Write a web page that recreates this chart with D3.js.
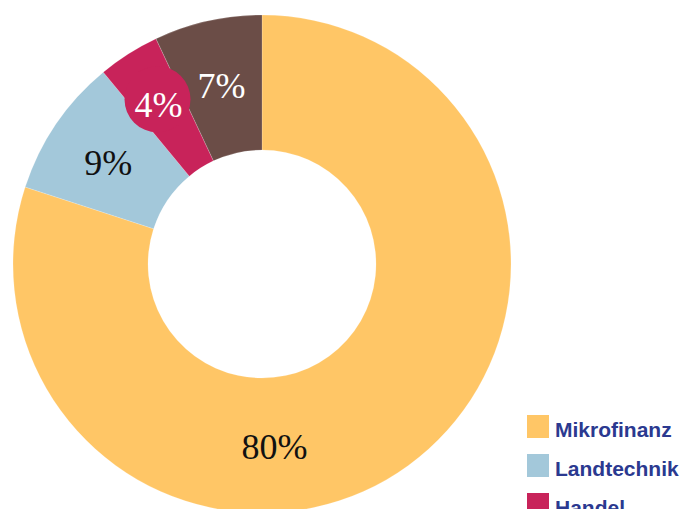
<!DOCTYPE html>
<html lang="de">
<head>
  <meta charset="UTF-8">
  <title>Portfolio nach Sektoren</title>
  <script src="https://cdnjs.cloudflare.com/ajax/libs/d3/7.8.5/d3.min.js"></script>
  <style>
    * { margin: 0; padding: 0; box-sizing: border-box; }
    body { background: #ffffff; width: 684px; height: 509px; overflow: hidden; }
    .slice-label { font-family: "Liberation Serif", "Times New Roman", serif; font-size: 36px; }
    .legend-label { font-family: "Liberation Sans", Arial, sans-serif; font-size: 21px; font-weight: bold; fill: #2b3990; }
  </style>
</head>
<body>
<div id="chart"></div>

<script>
  // Data
  const categories = ["Mikrofinanz", "Landtechnik", "Handel", "Sonstige"];
  const shares = [80, 9, 4, 7];
  const colors = ["#ffc666", "#a3c8da", "#c8235a", "#6b4d47"];
  const labelColors = ["#111111", "#111111", "#ffffff", "#ffffff"];

  const width = 684;
  const height = 509;
  const cx = 262, cy = 264;
  const outerR = 249, innerR = 114;
  const labelR = 186;
  const badgeR = 195;

  const svg = d3.select("#chart")
    .append("svg")
    .attr("width", width)
    .attr("height", height);

  const g = svg.append("g")
    .attr("transform", `translate(${cx},${cy})`);

  const pie = d3.pie().value(d => d).sort(null);
  const arcs = pie(shares);

  const arc = d3.arc().innerRadius(innerR).outerRadius(outerR);

  g.selectAll("path.slice")
    .data(arcs)
    .enter()
    .append("path")
    .attr("class", "slice")
    .attr("d", arc)
    .attr("fill", (d, i) => colors[i])
    .attr("stroke", "rgba(255,255,255,0.35)")
    .attr("stroke-width", 0.5);

  const isBig = d => d.data === d3.max(shares);
  const isSmall = d => d.data < 5;

  // label angle: middle of slice, the big one is placed near the bottom
  function labelAngle(d) {
    if (isBig(d)) return Math.PI * 0.978;
    return (d.startAngle + d.endAngle) / 2;
  }
  function labelRadius(d) {
    if (isBig(d)) return 179;
    if (isSmall(d)) return badgeR - 2;
    return labelR;
  }

  // small slices get a round badge behind the label
  g.selectAll("circle.badge")
    .data(arcs.filter(isSmall))
    .enter()
    .append("circle")
    .attr("class", "badge")
    .attr("cx", d => Math.sin(labelAngle(d)) * badgeR)
    .attr("cy", d => -Math.cos(labelAngle(d)) * badgeR)
    .attr("r", 33)
    .attr("fill", d => colors[d.index]);

  g.selectAll("text.slice-label")
    .data(arcs)
    .enter()
    .append("text")
    .attr("class", "slice-label")
    .attr("text-anchor", "middle")
    .attr("dominant-baseline", "central")
    .attr("x", d => Math.sin(labelAngle(d)) * labelRadius(d))
    .attr("y", d => -Math.cos(labelAngle(d)) * labelRadius(d) + 4)
    .attr("fill", (d, i) => labelColors[i])
    .text(d => d.data + "%");

  // Legend
  const legend = svg.append("g")
    .attr("transform", "translate(527,415)");

  const rowH = 39;
  const items = legend.selectAll("g.item")
    .data(categories.slice(0, 3))
    .enter()
    .append("g")
    .attr("class", "item")
    .attr("transform", (d, i) => `translate(0,${i * rowH})`);

  items.append("rect")
    .attr("width", 22)
    .attr("height", 23)
    .attr("fill", (d, i) => colors[i]);

  items.append("text")
    .attr("class", "legend-label")
    .attr("x", 28)
    .attr("y", 22)
    .text(d => d);
</script>
</body>
</html>
